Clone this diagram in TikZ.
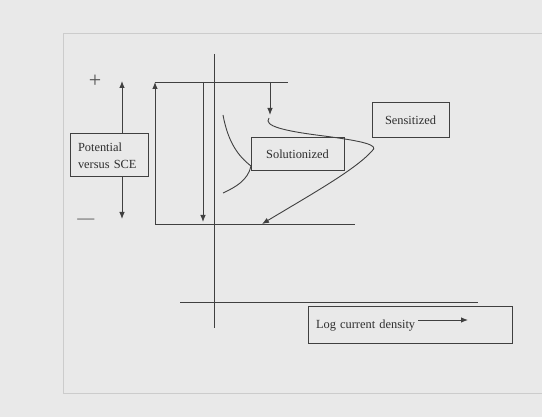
\documentclass[tikz,border=0pt]{standalone}
\usepackage{fontspec}
\setmainfont{Liberation Serif}
\usetikzlibrary{arrows.meta}

\begin{document}
\begin{tikzpicture}[x=1pt,y=-1pt,line width=0.9pt,
  >={Latex[length=7pt,width=5.5pt]},
  ink/.style={draw=black!75},
  labelbox/.style={draw=black!75,line width=1pt,inner sep=0pt,text=black!82,
    font=\fontsize{12.4}{17}\selectfont},
  sign/.style={text=black!68,inner sep=0pt}]
  \fill[gray!17] (0,0) rectangle (542,417);
  \useasboundingbox (0,0) rectangle (542,417);
  \draw[gray!40,line width=0.6pt] (542,33) -- (63,33) -- (63,393) -- (542,393);
  \node[labelbox,minimum width=78pt,minimum height=43pt,text width=62pt,align=left,inner xsep=8pt] (potential) at (109,155.5) {Potential\\versus SCE};
  \node[labelbox,minimum width=77pt,minimum height=35pt] (sensitized) at (410.5,120.5) {Sensitized};
  \node[labelbox,minimum width=93pt,minimum height=33pt] (solutionized) at (297.5,154.5) {Solutionized};
  \node[labelbox,minimum width=204pt,minimum height=37pt,text width=188pt,align=left,inner xsep=8pt] (logcd) at (410,325.5) {Log current density};
  \node[sign,font=\fontsize{22}{22}\selectfont] (plus) at (95,81) {+};
  \node[sign,font=\fontsize{17}{17}\selectfont] (minus) at (86,221) {—};
  \coordinate (ptop) at (122,81);
  \coordinate (pbot) at (122,219);
  \coordinate (tl) at (155,82);
  \coordinate (tr) at (288,82);
  \coordinate (bl) at (155,224);
  \coordinate (br) at (355,224);
  \coordinate (itop) at (203,82);
  \coordinate (ibot) at (203,222);
  \coordinate (vtop) at (214,54);
  \coordinate (vbot) at (214,328);
  \coordinate (hleft) at (180,302);
  \coordinate (hright) at (478,302);
  \coordinate (stop) at (270,82);
  \coordinate (sbot) at (270,115);
  \coordinate (send) at (262,224);
  \coordinate (astart) at (418,320);
  \coordinate (aend) at (468,320);
  \draw[ink,->] (ptop |- potential.north) -- (ptop);
  \draw[ink,->] (pbot |- potential.south) -- (pbot);
  \draw[ink,->] (bl) -- (tl);
  \draw[ink] (tl) -- (tr);
  \draw[ink] (bl) -- (br);
  \draw[ink,->] (itop) -- (ibot);
  \draw[ink] (vtop) -- (vbot);
  \draw[ink] (hleft) -- (hright);
  \draw[ink,->] (stop) -- (sbot);
  \draw[ink,->] (269,118) .. controls (263,126) and (284,131) .. (324,136)
    .. controls (362,141) and (380,145) .. (372,151)
    .. controls (355,170) and (310,195) .. (send);
  \draw[ink] (223,115) .. controls (228,142) and (238,156) .. (251,166)
    .. controls (248,180) and (236,187) .. (223,193);
  \draw[ink,->] (astart) -- (aend);
\end{tikzpicture}
\end{document}
